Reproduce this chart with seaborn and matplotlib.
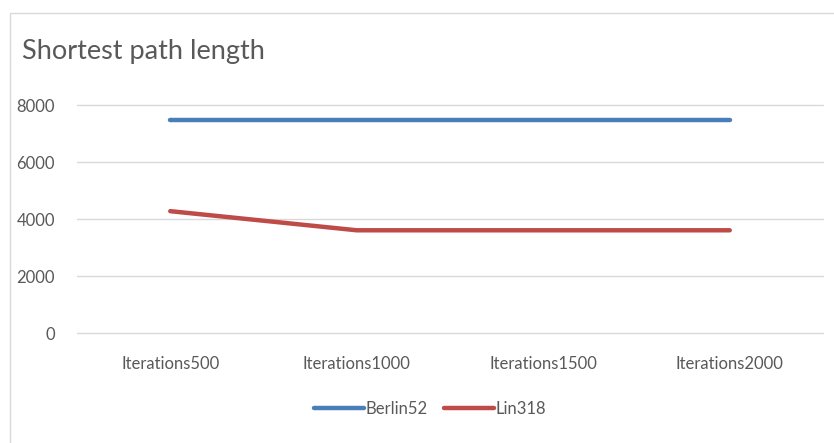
import matplotlib
matplotlib.use("Agg")
import matplotlib.pyplot as plt
import seaborn as sns
import pandas as pd
from matplotlib.patches import Rectangle
from matplotlib.lines import Line2D

categories = ["Iterations500", "Iterations1000", "Iterations1500", "Iterations2000"]
berlin52 = [7470, 7470, 7470, 7470]
lin318 = [4280, 3610, 3610, 3610]
series_names = ["Berlin52", "Lin318"]
yticks = [0, 2000, 4000, 6000, 8000]

df = pd.DataFrame({
    "cat": categories * 2,
    "x": list(range(len(categories))) * 2,
    "value": berlin52 + lin318,
    "series": [series_names[0]] * 4 + [series_names[1]] * 4,
})

sns.set_theme(style="white")
plt.rcParams["font.family"] = ["Lato", "DejaVu Sans"]

W, H = 834, 443
fig = plt.figure(figsize=(W / 100, H / 100), dpi=100)
ax = fig.add_axes([77 / W, 1 - 333.3 / H, (823 - 77) / W, (333.3 - 105) / H])

palette = {"Berlin52": "#4a7ebb", "Lin318": "#be4b48"}
sns.lineplot(data=df, x="x", y="value", hue="series", palette=palette,
             linewidth=3.2, ax=ax, legend=False, solid_capstyle="round")

ax.set_xlim(-0.5, 3.5)
ax.set_ylim(0, 8000)
ax.set_yticks(yticks)
ax.set_yticklabels([str(v) for v in yticks])
ax.set_xticks(range(len(categories)))
ax.set_xticklabels(categories)
ax.yaxis.grid(True, color="#d9d9d9", linewidth=1.0)
for gl in ax.get_ygridlines():
    gl.set_clip_on(False)
ax.set_axisbelow(True)
for s in ax.spines.values():
    s.set_visible(False)
ax.tick_params(axis="both", length=0, labelsize=12, colors="#595959")
ax.tick_params(axis="y", pad=16)
ax.tick_params(axis="x", pad=16)
ax.set_xlabel("")
ax.set_ylabel("")

# chart border
fig.patches.append(Rectangle((10 / W, -0.05), 1.2, 1 - 13 / H + 0.05,
                             transform=fig.transFigure, fill=False,
                             edgecolor="#d9d9d9", linewidth=1.0))

fig.text(22 / W, 1 - 52 / H, "Shortest path length", fontsize=19.5,
         color="#595959", va="center", ha="left")

handles = [Line2D([0], [0], color=palette[n], linewidth=3.2, solid_capstyle="round") for n in series_names]
fig.legend(handles, series_names, loc="center", bbox_to_anchor=(430 / W, 1 - 409 / H),
           ncol=2, frameon=False, fontsize=12, labelcolor="#595959",
           handlelength=3.0, handletextpad=0.1, columnspacing=1.0)

fig.savefig("out.png", dpi=100, facecolor="white")
